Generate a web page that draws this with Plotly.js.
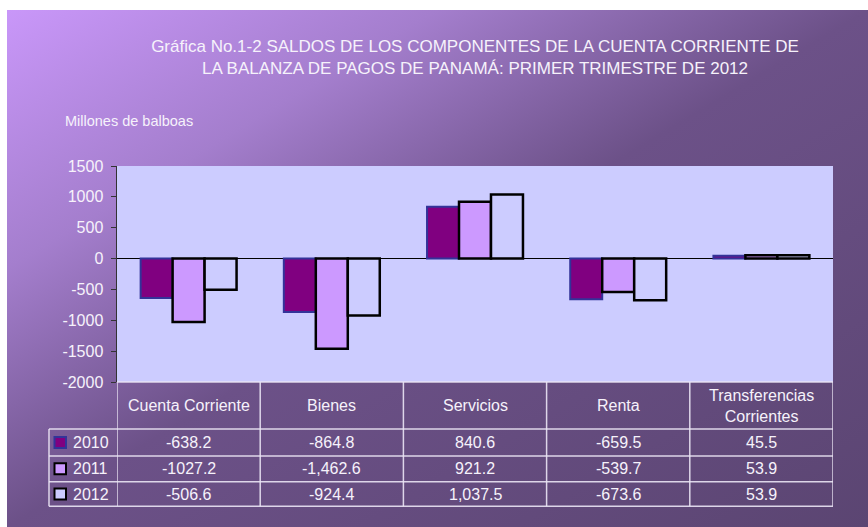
<!DOCTYPE html>
<html>
<head>
<meta charset="utf-8">
<script src="https://cdn.plot.ly/plotly-3.0.1.min.js"></script>
<style>
  html, body { margin: 0; padding: 0; background: #ffffff; }
  #wrap { position: relative; width: 868px; height: 527px; overflow: hidden; background: #ffffff; }
  #bg { position: absolute; left: 7px; top: 10px; width: 861px; height: 517px;
        background: linear-gradient(to bottom right, #c997f9 0%, #a47ecd 25%, #6c5188 50%, #5b4572 100%); }
  #chart { position: absolute; left: 0; top: 0; width: 868px; height: 527px; }
</style>
</head>
<body>
<div id="wrap"><div id="bg"></div><div id="chart"></div></div>
<script>
// ---- data ----
const categories = ['Cuenta Corriente', 'Bienes', 'Servicios', 'Renta', 'Transferencias<br>Corrientes'];
const years = ['2010', '2011', '2012'];
const v2010 = [-638.2, -864.8, 840.6, -659.5, 45.5];
const v2011 = [-1027.2, -1462.6, 921.2, -539.7, 53.9];
const v2012 = [-506.6, -924.4, 1037.5, -673.6, 53.9];
const lbl2010 = ['-638.2', '-864.8', '840.6', '-659.5', '45.5'];
const lbl2011 = ['-1027.2', '-1,462.6', '921.2', '-539.7', '53.9'];
const lbl2012 = ['-506.6', '-924.4', '1,037.5', '-673.6', '53.9'];
const yTicks = [-2000, -1500, -1000, -500, 0, 500, 1000, 1500];

// ---- styles ----
const FONT = 'Liberation Sans, Arial, sans-serif';
const TXT = '#f6f2fb';
const fills = ['#800080', '#cc99ff', '#ccccff'];
const edges = ['#333399', '#000000', '#000000'];
const edgeW = [2, 2.5, 2.5];
const series = [v2010, v2011, v2012];
const labels = [lbl2010, lbl2011, lbl2012];

const M = {l: 117, r: 35, t: 166, b: 145};
const W = 868, H = 527;
const plotH = H - M.t - M.b, plotW = W - M.l - M.r;
const py = Y => (H - M.b - Y) / plotH;   // pixel Y -> paper y
const px = X => (X - M.l) / plotW;       // pixel X -> paper x
const idx = categories.map((c, i) => i);

const traces = series.map((vals, k) => ({
  type: 'bar', name: years[k], x: idx, y: vals,
  marker: {color: fills[k], line: {color: edges[k], width: edgeW[k]}},
  hoverinfo: 'x+y'
}));

// table geometry (pixels)
const rowLines = [429, 456, 481.7, 506.3];
const headerTop = H - M.b;
const tableLeft = 49;
const LINE = 'rgba(235,230,245,0.9)';
const shapes = [];
// horizontal lines
shapes.push({type: 'line', xref: 'x', yref: 'paper', x0: -0.5, x1: categories.length - 0.5, y0: py(headerTop), y1: py(headerTop), line: {color: LINE, width: 1.5}});
rowLines.forEach(Y => shapes.push({type: 'line', xref: 'paper', yref: 'paper', x0: px(tableLeft), x1: 1, y0: py(Y), y1: py(Y), line: {color: LINE, width: 1.5}}));
// vertical lines
for (let i = 0; i <= categories.length; i++) {
  shapes.push({type: 'line', xref: 'x', yref: 'paper', x0: i - 0.5, x1: i - 0.5, y0: py(headerTop), y1: py(rowLines[3]), line: {color: LINE, width: 1.5}});
}
shapes.push({type: 'line', xref: 'paper', yref: 'paper', x0: px(tableLeft), x1: px(tableLeft), y0: py(rowLines[0]), y1: py(rowLines[3]), line: {color: LINE, width: 1.5}});

const annotations = [];
// header labels
categories.forEach((c, i) => annotations.push({xref: 'x', yref: 'paper', x: i, y: py((headerTop + rowLines[0]) / 2),
  text: c, showarrow: false, xanchor: 'center', yanchor: 'middle', font: {family: FONT, size: 16, color: TXT}}));
// rows
years.forEach((yr, k) => {
  const Yc = (rowLines[k] + rowLines[k + 1]) / 2;
  shapes.push({type: 'rect', xref: 'paper', yref: 'paper', x0: px(54.5), x1: px(66), y0: py(Yc + 5.5), y1: py(Yc - 5.5),
    fillcolor: fills[k], line: {color: edges[k], width: 2}});
  annotations.push({xref: 'paper', yref: 'paper', x: px(70.5), y: py(Yc), text: yr, showarrow: false,
    xanchor: 'left', yanchor: 'middle', font: {family: FONT, size: 16, color: TXT}});
  labels[k].forEach((t, i) => annotations.push({xref: 'x', yref: 'paper', x: i, y: py(Yc), text: t, showarrow: false,
    xanchor: 'center', yanchor: 'middle', font: {family: FONT, size: 16, color: TXT}}));
});
// unit label
annotations.push({xref: 'paper', yref: 'paper', x: px(63), y: py(121), text: 'Millones de balboas', showarrow: false,
  xanchor: 'left', yanchor: 'middle', font: {family: FONT, size: 14.5, color: TXT}});

const layout = {
  width: W, height: H,
  margin: M,
  paper_bgcolor: 'rgba(0,0,0,0)',
  plot_bgcolor: '#ccccff',
  showlegend: false,
  barmode: 'group',
  bargap: 0.33,
  bargroupgap: 0,
  title: {
    text: 'Gráfica No.1-2 SALDOS DE LOS COMPONENTES DE LA CUENTA CORRIENTE DE<br>LA BALANZA DE PAGOS DE PANAMÁ: PRIMER TRIMESTRE DE 2012',
    font: {family: FONT, size: 17, color: TXT},
    x: 475 / W, xref: 'container', xanchor: 'center',
    y: 1 - 52 / H, yref: 'container', yanchor: 'top'
  },
  xaxis: {
    type: 'linear', range: [-0.5, categories.length - 0.5],
    showticklabels: false, ticks: '', showgrid: false, zeroline: false, showline: false, fixedrange: true
  },
  yaxis: {
    range: [-2000, 1500], tickvals: yTicks, ticktext: yTicks.map(String),
    ticks: 'outside', ticklen: 5, tickcolor: '#333333', tickwidth: 1,
    showline: true, linecolor: '#333333', linewidth: 1.5,
    showgrid: false, zeroline: true, zerolinecolor: '#000000', zerolinewidth: 1,
    tickfont: {family: FONT, size: 16, color: TXT}, ticklabelstandoff: 4, fixedrange: true
  },
  shapes: shapes,
  annotations: annotations
};

Plotly.newPlot('chart', traces, layout, {displayModeBar: false, staticPlot: true});
</script>
</body>
</html>
